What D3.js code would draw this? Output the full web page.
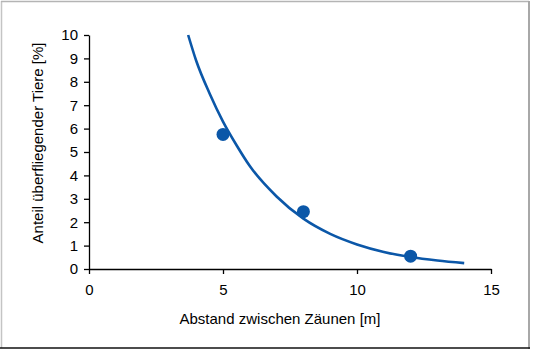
<!DOCTYPE html>
<html lang="de">
<head>
    <meta charset="UTF-8">
    <title>Anteil überfliegender Tiere</title>
    <script src="https://d3js.org/d3.v7.min.js"></script>
    <style>
        body { margin: 0; background: #fff; }
        text { font-family: "Liberation Sans", Arial, sans-serif; fill: #000; }
        .axis path, .axis line { stroke: #000; stroke-width: 1.3px; }
        .axis text { font-size: 15px; }
    </style>
</head>
<body>
    <svg id="chart"></svg>
    <script>
        // measured points
        const distances = [5, 8, 12];
        const shares = [5.75, 2.45, 0.55];

        // trend line
        const trendX = [3.7, 4, 4.5, 5, 5.5, 6, 7, 8, 9, 10, 11, 12, 13, 14];
        const trendY = [10, 8.9, 7.5, 6.3, 5.3, 4.4, 3.1, 2.15, 1.5, 1.05, 0.73, 0.51, 0.36, 0.25];

        const xTicks = [0, 5, 10, 15];
        const yTicks = [0, 1, 2, 3, 4, 5, 6, 7, 8, 9, 10];

        const width = 536, height = 352;
        const margin = { top: 35, right: 45, bottom: 83, left: 89 };
        const blue = '#0b57a8';

        const svg = d3.select('#chart')
            .attr('width', width)
            .attr('height', height);

        // outer frame (gray on three sides, dark at the bottom)
        const frame = svg.append('g').attr('fill', 'none');
        frame.append('line').attr('x1', 1.5).attr('y1', 1).attr('x2', 1.5).attr('y2', 348)
            .attr('stroke', '#c4c4c4').attr('stroke-width', 1.5);
        frame.append('line').attr('x1', 1).attr('y1', 1.5).attr('x2', 529).attr('y2', 1.5)
            .attr('stroke', '#b4b4b4').attr('stroke-width', 1.5);
        frame.append('line').attr('x1', 529).attr('y1', 1).attr('x2', 529).attr('y2', 349)
            .attr('stroke', '#a8a8a8').attr('stroke-width', 2);
        frame.append('line').attr('x1', 0).attr('y1', 348).attr('x2', 530).attr('y2', 348)
            .attr('stroke', '#111').attr('stroke-width', 1.5);

        const x = d3.scaleLinear().domain([0, 15]).range([margin.left, width - margin.right]);
        const y = d3.scaleLinear().domain([0, 10]).range([height - margin.bottom, margin.top]);

        svg.append('g')
            .attr('class', 'axis')
            .attr('transform', `translate(0,${y(0)})`)
            .call(d3.axisBottom(x).tickValues(xTicks).tickSize(5).tickPadding(7).tickSizeOuter(0))
            .selectAll('text').attr('dy', '0.9em');

        svg.append('g')
            .attr('class', 'axis')
            .attr('transform', `translate(${x(0)},0)`)
            .call(d3.axisLeft(y).tickValues(yTicks).tickSize(5).tickPadding(6).tickSizeOuter(0));

        // trend line
        const trend = trendX.map((d, i) => [d, trendY[i]]);
        svg.append('path')
            .datum(trend)
            .attr('fill', 'none')
            .attr('stroke', blue)
            .attr('stroke-width', 2.6)
            .attr('d', d3.line().x(d => x(d[0])).y(d => y(d[1])).curve(d3.curveMonotoneX));

        // data points
        svg.selectAll('.dot')
            .data(distances)
            .enter().append('circle')
            .attr('class', 'dot')
            .attr('cx', d => x(d))
            .attr('cy', (d, i) => y(shares[i]))
            .attr('r', 6.5)
            .attr('fill', blue);

        // axis titles
        svg.append('text')
            .attr('x', 280)
            .attr('y', 324)
            .attr('text-anchor', 'middle')
            .attr('font-size', 15)
            .text('Abstand zwischen Zäunen [m]');

        svg.append('text')
            .attr('transform', `translate(43,${(y(0) + y(10)) / 2 - 9}) rotate(-90)`)
            .attr('text-anchor', 'middle')
            .attr('font-size', 15)
            .text('Anteil überfliegender Tiere [%]');
    </script>
</body>
</html>
